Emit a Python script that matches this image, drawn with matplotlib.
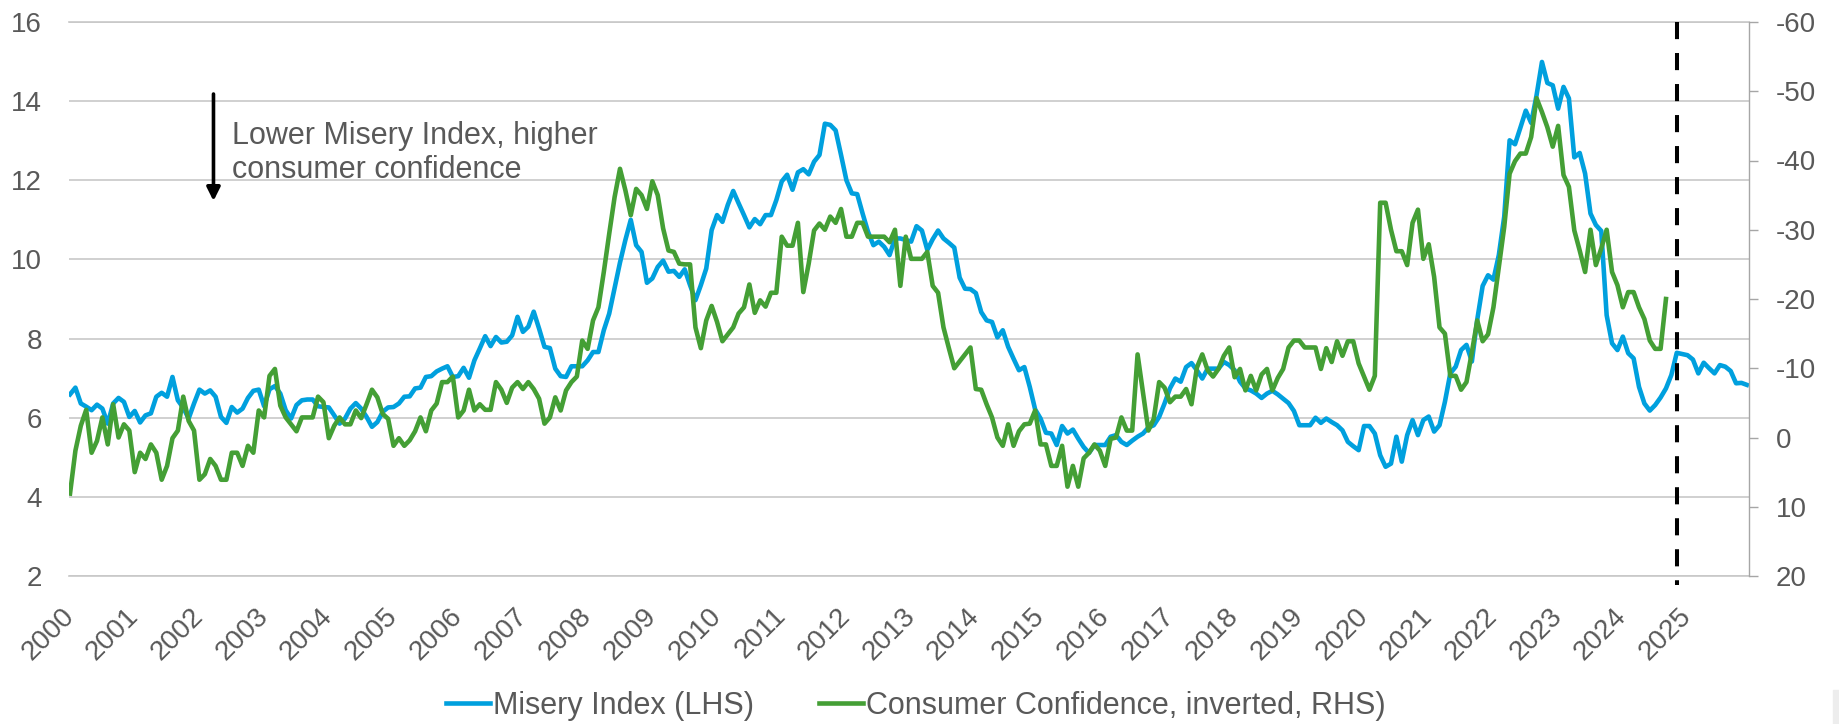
import numpy as np
import pandas as pd
import matplotlib
matplotlib.use("Agg")
import matplotlib.pyplot as plt
from matplotlib.patches import Rectangle

# monthly values, starting Jan 2000
misery = [
    6.59, 6.76, 6.36, 6.28, 6.19, 6.33, 6.23, 5.85, 6.36, 6.50, 6.40, 6.02,
    6.17, 5.88, 6.06, 6.11, 6.53, 6.63, 6.53, 7.03, 6.44, 6.25, 5.98, 6.36,
    6.71, 6.61, 6.69, 6.53, 6.02, 5.87, 6.27, 6.13, 6.23, 6.50, 6.68, 6.71,
    6.29, 6.72, 6.80, 6.61, 6.19, 5.98, 6.32, 6.44, 6.46, 6.46, 6.29, 6.27,
    6.26, 6.06, 5.85, 5.98, 6.23, 6.37, 6.23, 6.02, 5.77, 5.89, 6.15, 6.26,
    6.27, 6.36, 6.53, 6.54, 6.74, 6.76, 7.03, 7.05, 7.17, 7.24, 7.30, 7.03,
    7.05, 7.26, 7.01, 7.45, 7.75, 8.06, 7.81, 8.04, 7.90, 7.92, 8.08, 8.55,
    8.17, 8.30, 8.68, 8.25, 7.79, 7.76, 7.24, 7.05, 7.03, 7.30, 7.30, 7.30,
    7.45, 7.66, 7.66, 8.21, 8.63, 9.27, 9.92, 10.49, 11.00, 10.36, 10.19, 9.41,
    9.52, 9.81, 9.97, 9.69, 9.71, 9.56, 9.75, 9.35, 8.97, 9.35, 9.77, 10.74,
    11.12, 10.95, 11.38, 11.73, 11.42, 11.12, 10.81, 11.02, 10.89, 11.12, 11.12, 11.50,
    11.97, 12.14, 11.76, 12.20, 12.28, 12.15, 12.47, 12.64, 13.43, 13.40, 13.26, 12.64,
    12.00, 11.67, 11.65, 11.16, 10.70, 10.36, 10.45, 10.32, 10.11, 10.53, 10.53, 10.49,
    10.45, 10.84, 10.73, 10.24, 10.51, 10.73, 10.53, 10.42, 10.30, 9.54, 9.26, 9.25,
    9.15, 8.67, 8.46, 8.42, 8.03, 8.21, 7.79, 7.49, 7.20, 7.28, 6.78, 6.21,
    5.98, 5.62, 5.60, 5.31, 5.79, 5.60, 5.70, 5.47, 5.26, 5.11, 5.31, 5.31,
    5.31, 5.52, 5.56, 5.39, 5.31, 5.42, 5.52, 5.60, 5.75, 5.81, 6.02, 6.36,
    6.74, 6.99, 6.91, 7.28, 7.38, 7.20, 6.99, 7.24, 7.24, 7.24, 7.41, 7.33,
    7.20, 6.91, 6.74, 6.69, 6.61, 6.50, 6.61, 6.68, 6.59, 6.48, 6.37, 6.17,
    5.81, 5.81, 5.81, 6.00, 5.87, 5.98, 5.89, 5.81, 5.68, 5.39, 5.28, 5.18,
    5.79, 5.79, 5.60, 5.05, 4.76, 4.84, 5.52, 4.89, 5.56, 5.94, 5.56, 5.94,
    6.03, 5.65, 5.81, 6.40, 7.12, 7.29, 7.71, 7.84, 7.42, 8.48, 9.33, 9.60,
    9.49, 10.11, 11.08, 13.01, 12.91, 13.33, 13.76, 13.45, 14.15, 14.99, 14.46, 14.40,
    13.81, 14.36, 14.07, 12.58, 12.69, 12.17, 11.16, 10.87, 10.72, 8.59, 7.88, 7.71,
    8.05, 7.63, 7.50, 6.78, 6.36, 6.18, 6.32, 6.51, 6.74, 7.08, 7.64, 7.61,
    7.58, 7.47, 7.12, 7.39, 7.25, 7.12, 7.33, 7.29, 7.18, 6.87, 6.88, 6.83,
]

confidence = [
    8.1, 1.9, -1.7, -4.0, 2.2, 0.5, -2.9, 1.0, -4.8, 0.0, -1.9, -1.0,
    5.0, 2.2, 3.1, 1.0, 2.2, 6.1, 4.1, 0.1, -1.0, -5.9, -2.4, -1.0,
    6.1, 5.3, 3.1, 4.1, 6.1, 6.1, 2.2, 2.2, 4.1, 1.2, 2.2, -3.9,
    -2.9, -8.9, -9.9, -4.6, -2.9, -1.9, -0.9, -2.9, -2.9, -2.9, -5.9, -5.1,
    0.1, -1.7, -2.9, -1.9, -1.9, -3.9, -2.8, -4.8, -6.9, -5.8, -3.4, -2.7,
    1.2, 0.1, 1.2, 0.4, -0.9, -2.9, -0.9, -3.9, -4.9, -8.0, -8.0, -8.8,
    -2.9, -3.9, -6.9, -3.9, -4.8, -4.0, -4.0, -8.0, -6.9, -5.0, -7.2, -8.0,
    -7.0, -8.0, -7.0, -5.6, -2.0, -2.9, -5.8, -3.9, -6.8, -8.0, -8.8, -14.0,
    -12.8, -16.9, -18.8, -23.9, -29.4, -34.7, -38.8, -35.7, -32.1, -35.9, -35.0, -33.0,
    -37.0, -35.0, -30.2, -27.0, -26.8, -25.1, -25.0, -25.0, -15.9, -12.9, -16.9, -19.0,
    -16.7, -13.9, -14.9, -15.9, -17.9, -18.8, -22.1, -18.0, -19.8, -18.9, -20.9, -20.9,
    -29.0, -27.7, -27.7, -31.0, -21.0, -25.1, -29.9, -30.9, -30.0, -31.9, -31.0, -33.0,
    -29.0, -29.0, -31.0, -31.0, -29.0, -29.0, -29.0, -29.0, -28.2, -30.0, -21.9, -29.0,
    -25.8, -25.8, -25.8, -26.8, -21.9, -20.9, -15.9, -12.9, -10.0, -11.0, -12.0, -13.0,
    -7.0, -6.9, -4.8, -2.9, 0.0, 1.2, -1.9, 1.2, -0.9, -1.9, -2.0, -3.9,
    1.0, 1.0, 4.1, 4.1, 1.2, 7.1, 4.1, 7.1, 3.0, 2.2, 1.0, 1.9,
    4.1, 0.2, 0.0, -2.9, -1.0, -1.0, -12.0, -6.5, -1.0, -2.7, -8.0, -7.2,
    -5.1, -5.9, -5.9, -7.0, -4.8, -10.1, -12.0, -9.7, -8.8, -9.9, -11.8, -13.0,
    -8.7, -9.9, -6.8, -8.9, -6.8, -9.1, -9.9, -6.8, -8.6, -9.9, -13.0, -14.0,
    -14.0, -13.0, -13.0, -13.0, -9.9, -12.9, -10.9, -13.9, -11.8, -13.9, -13.9, -10.7,
    -8.8, -6.9, -8.9, -33.9, -33.9, -30.0, -26.9, -26.9, -24.9, -31.0, -32.9, -25.8,
    -27.9, -23.2, -15.9, -15.0, -8.9, -8.9, -6.9, -8.0, -12.3, -16.9, -13.9, -14.9,
    -18.8, -24.6, -30.4, -38.1, -39.9, -41.0, -41.0, -43.4, -49.0, -47.0, -44.8, -42.0,
    -45.0, -37.9, -36.2, -29.9, -27.0, -23.9, -30.0, -24.9, -27.3, -30.0, -23.9, -22.0,
    -18.8, -21.0, -21.0, -18.8, -17.1, -14.0, -12.8, -12.8, -20.0,
]

forecast_start = "2024-11"
labels = ["Misery Index (LHS)", "Consumer Confidence, inverted, RHS)"]
note = "Lower Misery Index, higher\nconsumer confidence"

blue = "#00A0DE"
green = "#449F35"
gray = "#595959"
grid_gray = "#C8C8C8"
lw = 3.3

plt.rcParams["font.family"] = ["Liberation Sans", "DejaVu Sans"]
plt.rcParams["axes.unicode_minus"] = False

dates = pd.date_range("2000-01-01", periods=len(misery), freq="MS")
x = np.arange(len(misery))
x_cc = np.arange(len(confidence))
year_ticks = x[dates.month == 1]
year_labels = [str(d.year) for d in dates[dates.month == 1]]
fx = dates.get_loc(pd.Timestamp(forecast_start))

fig = plt.figure(figsize=(18.39, 7.24), dpi=100)
ax = fig.add_axes([69 / 1839, 1 - 576 / 724, 1680 / 1839, 554 / 724])
ax2 = ax.twinx()

l1, = ax.plot(x, misery, color=blue, lw=lw)
l2, = ax2.plot(x_cc, confidence, color=green, lw=lw)

ax.set_xlim(-0.19, 311.4)
ax.set_ylim(2, 16)
ax.set_yticks(range(2, 17, 2))
ax.grid(axis="y", color=grid_gray, lw=1.2)
ax.set_axisbelow(True)
ax.tick_params(axis="y", length=0, pad=19.5, labelsize=20, labelcolor=gray)
ax.set_xticks(year_ticks)
ax.set_xticklabels(year_labels, rotation=45, ha="right", va="center", rotation_mode="anchor")
ax.tick_params(axis="x", length=0, pad=26, labelsize=20, labelcolor=gray)

ax2.set_ylim(20, -60)
ax2.set_yticks(range(-60, 21, 10))
ax2.tick_params(axis="y", length=6.5, width=1, color="#A6A6A6", pad=13, labelsize=20, labelcolor=gray)

for a in (ax, ax2):
    for side in ("left", "top", "bottom", "right"):
        a.spines[side].set_visible(False)
ax2.spines["right"].set_visible(True)
ax2.spines["right"].set_color("#A6A6A6")
ax2.spines["right"].set_linewidth(1)
for side in ("top", "bottom"):
    ax.spines[side].set_visible(True)
    ax.spines[side].set_color(grid_gray)
    ax.spines[side].set_linewidth(1.2)

# forecast marker
ax2.plot([fx, fx], [1, -0.016], transform=ax2.get_xaxis_transform(), color="black",
         lw=2.9, linestyle=(0, (4.25, 3.45)), clip_on=False, zorder=5)

ax.annotate("", xy=(0.086, 0.677), xytext=(0.086, 0.870), xycoords="axes fraction",
            arrowprops=dict(arrowstyle="-|>", color="black", lw=2.6, mutation_scale=20,
                            shrinkA=0, shrinkB=0))
ax.text(0.097, 0.821, note, transform=ax.transAxes, fontsize=22, color=gray,
        va="top", ha="left", linespacing=1.15)

fig.legend([l1, l2], labels, loc="center", bbox_to_anchor=(0.498, 0.025), ncol=2,
           frameon=False, fontsize=22, handlelength=1.44, handletextpad=0.1,
           columnspacing=2.1, labelcolor=gray, borderpad=0)

fig.patches.append(Rectangle((1833 / 1839, 0), 6 / 1839, 34 / 724, transform=fig.transFigure,
                             color="#EDEDED", zorder=0))

fig.savefig("out.png", dpi=100)
